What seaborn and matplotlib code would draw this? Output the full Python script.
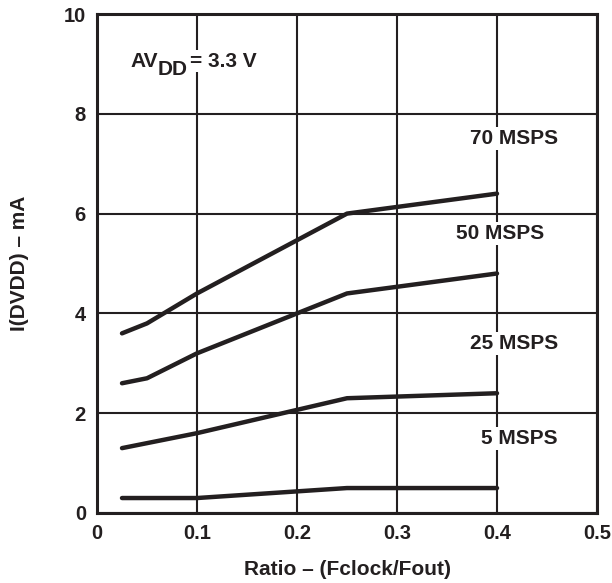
import matplotlib
matplotlib.use("Agg")
import matplotlib.pyplot as plt
import seaborn as sns
import pandas as pd

sns.set_theme(style="white")
plt.rcParams['font.family'] = ['Liberation Sans', 'DejaVu Sans']
plt.rcParams['font.weight'] = 'bold'

ratio = [0.025, 0.05, 0.1, 0.25, 0.4]
i_70 = [3.6, 3.8, 4.4, 6.0, 6.4]
i_50 = [2.6, 2.7, 3.2, 4.4, 4.8]
i_25 = [1.3, 1.4, 1.6, 2.3, 2.4]
i_5 = [0.3, 0.3, 0.3, 0.5, 0.5]
series_names = ["70 MSPS", "50 MSPS", "25 MSPS", "5 MSPS"]
label_x = [0.417, 0.403, 0.417, 0.422]
label_y = [7.5, 5.6, 3.4, 1.5]
x_ticks = [0, 0.1, 0.2, 0.3, 0.4, 0.5]
x_tick_labels = ["0", "0.1", "0.2", "0.3", "0.4", "0.5"]
y_ticks = [0, 2, 4, 6, 8, 10]

rows = []
for name, vals in zip(series_names, [i_70, i_50, i_25, i_5]):
    for x, y in zip(ratio, vals):
        rows.append({"ratio": x, "current": y, "series": name})
df = pd.DataFrame(rows)

ink = "#231f20"
fig = plt.figure(figsize=(6.12, 5.83), dpi=100)
ax = fig.add_axes([97/612, 70/583, 500/612, 499/583])

sns.lineplot(data=df, x="ratio", y="current", hue="series",
             palette=[ink]*4, linewidth=3.2, legend=False, ax=ax,
             solid_capstyle="round", sort=True)

ax.set_xlim(0, 0.5)
ax.set_ylim(0, 10)
ax.set_xticks(x_ticks)
ax.set_xticklabels(x_tick_labels)
ax.set_yticks(y_ticks)
ax.grid(True, color=ink, linewidth=1.5)
ax.set_axisbelow(True)
for s in ax.spines.values():
    s.set_color(ink)
    s.set_linewidth(2.2)
    s.set_zorder(5)
ax.tick_params(length=0, labelsize=14.5, colors=ink, pad=8)
for lbl in ax.get_xticklabels() + ax.get_yticklabels():
    lbl.set_fontweight('bold')

ax.set_xlabel("Ratio – (Fclock/Fout)", fontsize=15, fontweight='bold', color=ink, labelpad=12)
ax.set_ylabel("I(DVDD) – mA", fontsize=15, fontweight='bold', color=ink, labelpad=25)

for name, lx, ly in zip(series_names, label_x, label_y):
    ax.text(lx, ly, name, ha="center", va="center", fontsize=15, fontweight='bold',
            color=ink, bbox=dict(facecolor="white", edgecolor="none", pad=1.5), zorder=4)

wb = dict(facecolor="white", edgecolor="none", pad=1.0)
t1 = ax.text(0.033, 8.94, "AV", ha="left", va="baseline", fontsize=15,
             fontweight='bold', color=ink, zorder=4)
t2 = ax.annotate("DD", xy=(1, 0), xycoords=t1, xytext=(0, -6), textcoords="offset points",
                 ha="left", va="bottom", fontsize=15, fontweight='bold', color=ink,
                 bbox=wb, zorder=4)
t3 = ax.annotate("= 3.3 V", xy=(1, 0), xycoords=t2, xytext=(2, 6), textcoords="offset points",
                 ha="left", va="bottom", fontsize=15, fontweight='bold', color=ink,
                 bbox=wb, zorder=4)

fig.savefig("out.png", dpi=100, facecolor="white")
